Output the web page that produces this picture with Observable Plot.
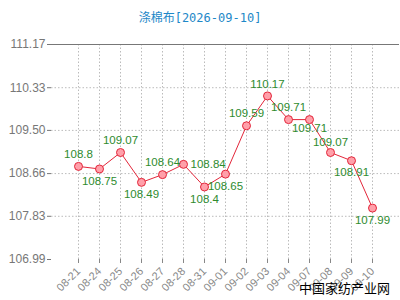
<!DOCTYPE html>
<html>
<head>
<meta charset="utf-8">
<script src="https://cdn.jsdelivr.net/npm/d3@7"></script>
<script src="https://cdn.jsdelivr.net/npm/@observablehq/plot@0.6"></script>
<style>
  html, body { margin: 0; padding: 0; background: #fff; }
  #wrap { position: relative; width: 400px; height: 300px; overflow: hidden; }
  #title { height: 30px; line-height: 34px; text-align: center; color: #1e88c8; font-size: 12px; font-family: "Noto Sans CJK SC", "DejaVu Sans Mono", monospace; }
  #title .m { font-family: "DejaVu Sans Mono", monospace; }
  #wm { position: absolute; left: 299px; top: 279px; font-size: 13px; font-family: "Noto Sans CJK SC", sans-serif; color: #000; line-height: 18px; }
  svg text { font-family: "Liberation Sans", Arial, sans-serif; }
</style>
</head>
<body>
<div id="wrap">
  <div id="title">涤棉布<span class="m">[2026-09-10]</span></div>
  <div id="chart"></div>
  <div id="wm">中国家纺产业网</div>
</div>
<script>
const dates = ["08-21","08-24","08-25","08-26","08-27","08-28","08-31","09-01","09-02","09-03","09-04","09-07","09-08","09-09","09-10"];
const prices = [108.8,108.75,109.07,108.49,108.64,108.84,108.4,108.65,109.59,110.17,109.71,109.71,109.07,108.91,107.99];
const labelSide = ["top","bottom","top","bottom","top","right","bottom","bottom","top","top","top","bottomNear","topNear","bottom","bottom"];
const yTicks = [106.99,107.83,108.66,109.50,110.33,111.17];

const data = dates.map((d, i) => ({date: d, price: prices[i], side: labelSide[i]}));
const yMin = yTicks[0], yMax = yTicks[yTicks.length - 1];
const green = "#2e8b2e";
const red = "#e3263a";
const lbl = (side, opts) => Plot.text(data.filter(d => d.side === side), {x: "date", y: "price", text: d => String(d.price), fill: green, fontSize: 11.5, ...opts});

const chart = Plot.plot({
  width: 400,
  height: 270,
  marginLeft: 51,
  marginRight: 1,
  marginTop: 14,
  marginBottom: 41,
  x: {type: "point", domain: dates, padding: 1},
  y: {domain: [yMin, yMax]},
  marks: [
    Plot.ruleY(yTicks.slice(1, -1), {stroke: "#bbb", strokeDasharray: "1.5,2"}),
    Plot.ruleX(dates, {y1: yMin, y2: yMax, stroke: "#bbb", strokeDasharray: "1.5,2"}),
    Plot.ruleY([yMax], {stroke: "#777"}),
    Plot.axisY({ticks: yTicks, tickFormat: d => d.toFixed(2), tickSize: 4, tickPadding: 2, fontSize: 12, color: "#777", line: true, label: null}),
    Plot.axisX({tickRotate: -45, tickSize: 4, tickPadding: 6, fontSize: 11, color: "#888", line: true, label: null}),
    Plot.line(data, {x: "date", y: "price", stroke: red, strokeWidth: 1}),
    Plot.dot(data, {x: "date", y: "price", r: 4, fill: "#ffa0aa", stroke: red, strokeWidth: 1}),
    lbl("top", {dy: -12}),
    lbl("topNear", {dy: -10}),
    lbl("bottom", {dy: 12}),
    lbl("bottomNear", {dy: 9}),
    lbl("right", {dx: 7, textAnchor: "start"})
  ]
});
document.getElementById("chart").appendChild(chart);
</script>
</body>
</html>
